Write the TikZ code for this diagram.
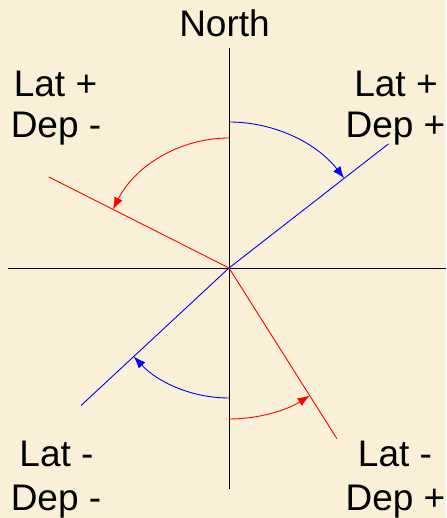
\documentclass[tikz,border=0pt]{standalone}
\usepackage{fontspec}
\setmainfont{Liberation Sans}
\usetikzlibrary{arrows.meta,calc}
\definecolor{parch}{RGB}{250,240,215}
\definecolor{lred}{RGB}{255,0,0}
\definecolor{lblue}{RGB}{0,0,255}
\tikzset{
  axis/.style={draw=black,line width=0.9pt},
  redline/.style={draw=lred,line width=0.9pt},
  blueline/.style={draw=lblue,line width=0.9pt},
  redarc/.style={draw=lred,line width=0.9pt,-{Latex[length=12pt,width=9pt]}},
  bluearc/.style={draw=lblue,line width=0.9pt,-{Latex[length=12pt,width=9pt]}},
  lbl/.style={font=\fontsize{37}{42}\selectfont,inner sep=0pt,anchor=base,text=black}
}
\begin{document}
\begin{tikzpicture}[x=1pt,y=1pt]
\fill[parch] (0,0) rectangle (446,518);
\useasboundingbox (0,0) rectangle (446,518);
\coordinate (O) at (229,250);
\coordinate (Ntop) at (229,470);
\coordinate (Sbot) at (229,29);
\coordinate (Wend) at (8,250);
\coordinate (Eend) at (446,250);
\coordinate (NE) at ($(O)+(37.9:202)$);
\coordinate (SW) at ($(O)+(222.9:202)$);
\coordinate (NW) at ($(O)+(153.2:202)$);
\coordinate (SE) at ($(O)+(-57.7:202)$);
% axes
\draw[axis] (Ntop) -- (Sbot);
\draw[axis] (Wend) -- (Eend);
% bearing lines
\draw[blueline] (SW) -- (O) -- (NE);
\draw[redline] (NW) -- (O) -- (SE);
% arcs
\draw[bluearc] ($(O)+(90:146)$) arc[start angle=90,end angle=37.9,radius=146];
\draw[redarc] ($(O)+(90:130)$) arc[start angle=90,end angle=153.2,radius=130];
\draw[bluearc] ($(O)+(270:130)$) arc[start angle=270,end angle=222.9,radius=130];
\draw[redarc] ($(O)+(270:151)$) arc[start angle=270,end angle=302.3,radius=151];
% labels
\node[lbl] (north) at (224.5,481) {North};
\node[lbl] (tl1) at (55.5,421) {Lat +};
\node[lbl] (tl2) at (56,380) {Dep -};
\node[lbl] (tr1) at (396,421) {Lat +};
\node[lbl] (tr2) at (395.5,380) {Dep +};
\node[lbl] (bl1) at (56.5,51) {Lat -};
\node[lbl] (bl2) at (56,8) {Dep -};
\node[lbl] (br1) at (395,51) {Lat -};
\node[lbl] (br2) at (395.5,8) {Dep +};
\end{tikzpicture}
\end{document}
